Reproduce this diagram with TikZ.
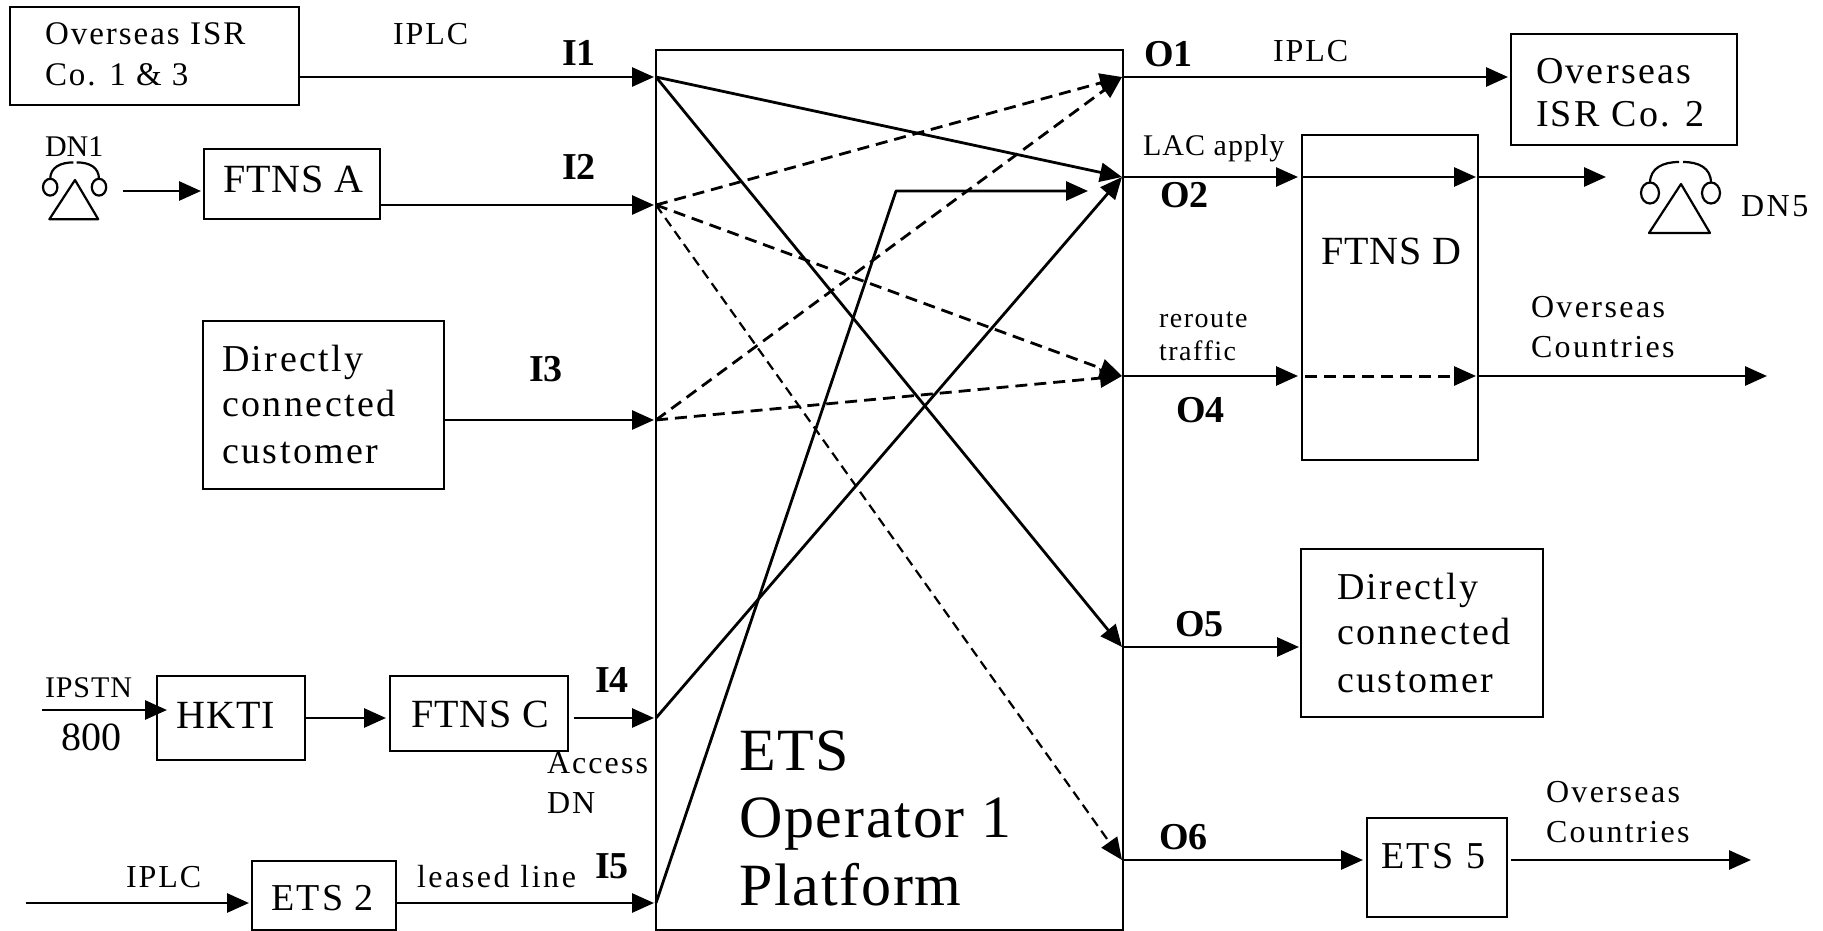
\documentclass[tikz,border=0pt]{standalone}
\usepackage{fontspec}
\usetikzlibrary{arrows.meta}
\setmainfont{Liberation Serif}
\newfontfamily\lblfont{Liberation Serif}
\newcommand\sz[2]{\fontsize{#1}{#1}\selectfont\addfontfeature{LetterSpace=#2}}
\newcommand\Ln[3]{\rlap{\kern#1pt\raisebox{#2pt}[0pt][0pt]{#3}}}
\tikzset{
  x=1pt, y=-1pt,
  boxnode/.style={draw=black, line width=2.8pt, inner sep=0pt, outer sep=0pt, rectangle},
  txt/.style={anchor=base west, inner sep=0pt, outer sep=0pt},
  bold/.style={txt, font=\lblfont\bfseries\fontsize{38}{38}\selectfont},
  conn/.style={draw=black, line width=2.8pt},
  arrow/.style={conn, -{Triangle[length=22pt,width=19pt]}},
  dashline/.style={arrow, dash pattern=on 12pt off 7pt},
  thindash/.style={arrow, line width=2.2pt, dash pattern=on 10pt off 6pt},
  phone/.pic={
    \draw[line width=2.2pt] (-31,-1) .. controls (-31,-16) and (-18,-22) .. (-2,-22);
    \draw[line width=2.2pt] (2,-22) .. controls (18,-22) and (30,-16) .. (30,-1);
    \draw[line width=2.2pt] (-31,9) ellipse[x radius=9, y radius=10.5];
    \draw[line width=2.2pt] (30,9) ellipse[x radius=9, y radius=10.5];
    \draw[line width=2.2pt, line join=round] (0,0) -- (-32,49) -- (29,49) -- cycle;
  },
}
\begin{document}
\begin{tikzpicture}
\useasboundingbox (0,0) rectangle (1823,931);

% boxes
\node[boxnode, minimum width=289pt, minimum height=98pt] (ovs) at (154.5,56)
  {\sz{33}{6}\Ln{-109.5}{11}{Overseas ISR}\Ln{-109.5}{-30}{Co. 1 \& 3}};
\node[boxnode, minimum width=176pt, minimum height=70pt] (ftnsa) at (292,184)
  {\sz{40}{2.5}\Ln{-69}{-9}{FTNS A}};
\node[boxnode, minimum width=241pt, minimum height=168pt] (dcl) at (323.5,405)
  {\sz{38}{6.5}\Ln{-101.5}{34}{Directly}\Ln{-101.5}{-11}{connected}\Ln{-101.5}{-58}{customer}};
\node[boxnode, minimum width=148pt, minimum height=84pt] (hkti) at (231,718)
  {\sz{40}{3}\Ln{-55}{-10}{HKTI}};
\node[boxnode, minimum width=178pt, minimum height=75pt] (ftnsc) at (479,713.5)
  {\sz{40}{2.5}\Ln{-68}{-13.5}{FTNS C}};
\node[boxnode, minimum width=144pt, minimum height=69pt] (ets2) at (324,895.5)
  {\sz{38}{6}\Ln{-53}{-14.5}{ETS 2}};
\node[boxnode, minimum width=467pt, minimum height=880pt] (plat) at (889.5,490)
  {\sz{60}{3}\Ln{-150.5}{-280}{ETS}\Ln{-150.5}{-347}{Operator 1}\Ln{-150.5}{-415}{Platform}};
\node[boxnode, minimum width=226pt, minimum height=111pt] (ovs2) at (1624,89.5)
  {\sz{38}{6}\Ln{-88}{5.5}{Overseas}\Ln{-88}{-37.5}{ISR Co. 2}};
\node[boxnode, minimum width=176pt, minimum height=325pt] (ftnsd) at (1390,297.5)
  {\sz{40}{2.5}\Ln{-69}{33.5}{FTNS D}};
\node[boxnode, minimum width=242pt, minimum height=168pt] (dcr) at (1422,633)
  {\sz{38}{6.5}\Ln{-85}{34}{Directly}\Ln{-85}{-11}{connected}\Ln{-85}{-59}{customer}};
\node[boxnode, minimum width=140pt, minimum height=99pt] (ets5) at (1437,867.5)
  {\sz{38}{7}\Ln{-56}{-0.5}{ETS 5}};

% ports
\coordinate (i1) at (656,77);
\coordinate (i2) at (656,205);
\coordinate (i3) at (656,420);
\coordinate (i4) at (656,718);
\coordinate (i5) at (656,903);
\coordinate (o1) at (1122,77);
\coordinate (o2) at (1122,177);
\coordinate (o4) at (1122,376);
\coordinate (o5) at (1122,647);
\coordinate (o6) at (1122,860);
\coordinate (bend) at (896,191);
\coordinate (bendend) at (1088,191);
\coordinate (dnonefrom) at (123,191);
\coordinate (ipstnfrom) at (42,710);
\coordinate (ipstnto) at (167,710);
\coordinate (iplcfrom) at (26,903);
\coordinate (dnfive) at (1606,177);
\coordinate (ovsout) at (1767,376);
\coordinate (etsout) at (1751,860);

% inputs
\draw[arrow, shorten >=2pt] (ovs.east |- i1) -- (i1);
\draw[arrow, shorten >=2pt] (ftnsa.east |- i2) -- (i2);
\draw[arrow, shorten >=2pt] (dcl.east |- i3) -- (i3);
\draw[arrow, shorten >=2pt, shorten <=6pt] (ftnsc.east |- i4) -- (i4);
\draw[arrow, shorten >=2pt] (ets2.east |- i5) -- (i5);
\draw[arrow, shorten >=3pt] (dnonefrom) -- (ftnsa.west |- dnonefrom);
\draw[arrow] (ipstnfrom) -- (ipstnto);
\draw[arrow, shorten >=4pt] (hkti.east) -- (ftnsc.west |- hkti.east);
\draw[arrow, shorten >=3pt] (iplcfrom) -- (ets2.west |- iplcfrom);

% platform routing
\draw[arrow] (i1) -- (o2);
\draw[arrow] (i1) -- (o5);
\draw[dashline] (i2) -- (o1);
\draw[dashline] (i2) -- (o4);
\draw[thindash] (i2) -- (o6);
\draw[dashline] (i3) -- (o1);
\draw[dashline] (i3) -- (o4);
\draw[arrow] (i4) -- (o2);
\draw[arrow, line join=bevel] (i5) -- (bend) -- (bendend);

% outputs
\draw[arrow, shorten >=3pt] (o1) -- (ovs2.west |- o1);
\draw[arrow, shorten >=4pt] (o2) -- (ftnsd.west |- o2);
\draw[arrow, shorten >=2pt] (ftnsd.west |- o2) -- (ftnsd.east |- o2);
\draw[arrow] (ftnsd.east |- o2) -- (dnfive);
\draw[arrow, shorten >=4pt] (o4) -- (ftnsd.west |- o4);
\draw[dashline, line width=3pt, shorten >=2pt, shorten <=3pt] (ftnsd.west |- o4) -- (ftnsd.east |- o4);
\draw[arrow] (ftnsd.east |- o4) -- (ovsout);
\draw[arrow, shorten >=2pt] (o5) -- (dcr.west |- o5);
\draw[arrow, shorten >=4pt] (o6) -- (ets5.west |- o6);
\draw[arrow, shorten <=4pt] (ets5.east |- o6) -- (etsout);

% phones
\pic[scale=0.8] (phoneone) at (75,180) {phone};
\pic (phonefive) at (1681,184) {phone};

% free labels
\node[txt, font=\sz{32}{6}] (lbiplca) at (393,45) {IPLC};
\node[txt, font=\sz{30}{0}] (lbdna) at (45,157) {DN1};
\node[txt, font=\sz{32}{8}] (lbdne) at (1741,216) {DN5};
\node[txt, font=\sz{32}{6}] (lbiplcb) at (1273,62) {IPLC};
\node[txt, font=\sz{30}{3.5}] (lblac) at (1143,156) {LAC apply};
\node[txt, font=\sz{28}{5.5}] (lbrer) at (1159,327) {reroute};
\node[txt, font=\sz{28}{5.5}] (lbtra) at (1159,360) {traffic};
\node[txt, font=\sz{32}{7.5}] (lbova) at (1531,317) {Overseas};
\node[txt, font=\sz{32}{7.5}] (lbcoa) at (1531,357) {Countries};
\node[txt, font=\sz{32}{7.5}] (lbovb) at (1546,802) {Overseas};
\node[txt, font=\sz{32}{7.5}] (lbcob) at (1546,842) {Countries};
\node[txt, font=\sz{30}{3}] (lbips) at (45,697) {IPSTN};
\node[txt, font=\sz{40}{0.5}] (lbeig) at (61,750) {800};
\node[txt, font=\sz{32}{6.5}] (lbacc) at (547,773) {Access};
\node[txt, font=\sz{32}{6.5}] (lbdn) at (547,813) {DN};
\node[txt, font=\sz{32}{6}] (lbiplcc) at (126,887) {IPLC};
\node[txt, font=\sz{32}{8}] (lblea) at (417,887) {leased line};

\node[bold] (li1) at (562,66) {I1};
\node[bold] (li2) at (562,179) {I2};
\node[bold] (li3) at (529,381) {I3};
\node[bold] (li4) at (595,692) {I4};
\node[bold] (li5) at (595,878) {I5};
\node[bold] (lo1) at (1144,67) {O1};
\node[bold] (lo2) at (1160,207) {O2};
\node[bold] (lo4) at (1176,422) {O4};
\node[bold] (lo5) at (1175,636) {O5};
\node[bold] (lo6) at (1159,849) {O6};
\end{tikzpicture}
\end{document}
